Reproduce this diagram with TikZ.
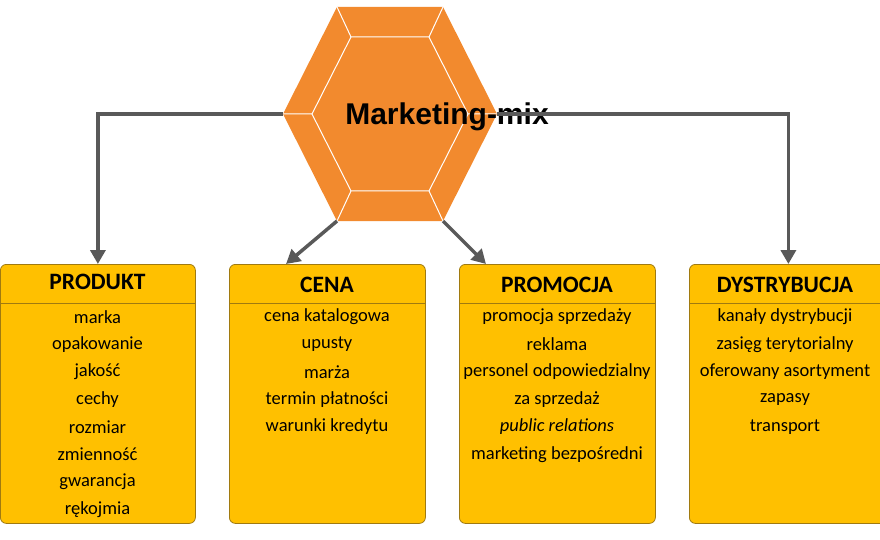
\documentclass[tikz,border=0pt]{standalone}
\usepackage{fontspec}
\setmainfont{Carlito}
\usetikzlibrary{arrows.meta}
\begin{document}
\begin{tikzpicture}[x=1pt,y=-1pt,
  box/.style={draw=boxdraw,fill=boxfill,rounded corners=6pt,line width=0.8pt,minimum height=259pt,inner sep=0pt,anchor=north west},
  conn/.style={draw=conncol,line width=3.5pt,-{Triangle[length=14pt,width=15pt]}},
  item/.style={font=\fontsize{18.5}{18.5}\selectfont,anchor=center,inner sep=0pt},
  head/.style={font=\bfseries\fontsize{23.5}{23.5}\selectfont,anchor=center,inner sep=0pt}]
\definecolor{boxfill}{HTML}{FFC000}
\definecolor{boxdraw}{HTML}{A07A10}
\definecolor{conncol}{HTML}{595959}
\definecolor{hexfill}{HTML}{F28A2E}
\useasboundingbox (0,0) rectangle (880,540);
% hexagon
\fill[hexfill] (283,114)--(337,7)--(443,7)--(497,114)--(443,221)--(337,221)--cycle;
\draw[white,line width=1pt] (312,114)--(351,37)--(429,37)--(468,114)--(429,191)--(351,191)--cycle;
\draw[white,line width=1pt] (283,114)--(312,114) (337,7)--(351,37) (443,7)--(429,37) (497,114)--(468,114) (443,221)--(429,191) (337,221)--(351,191);
\node[font=\fontspec{Liberation Sans}\bfseries\fontsize{30}{30}\selectfont,inner sep=0pt] (title) at (447,117) {Marketing-mix};
\coordinate (hl) at (283,114);
\coordinate (hr) at (497,114);
\coordinate (hbl) at (337,221);
\coordinate (hbr) at (443,221);
% boxes
\node[box,minimum width=195pt] (bp) at (0,264) {};
\node[box,minimum width=196pt] (bc) at (229,264) {};
\node[box,minimum width=196pt] (bm) at (459,264) {};
\node[box,minimum width=198pt] (bd) at (689,264) {};
\foreach \x/\w in {0/195, 229/196, 459/196, 689/198}
  \draw[boxdraw,line width=0.8pt] (\x,303) -- ++(\w,0);
\coordinate (ct) at (286,264);
\coordinate (mt) at (486,264);
\node[head] (hp) at (97.5,282) {PRODUKT};
\node[head] (hc) at (327,285) {CENA};
\node[head] (hm) at (557,285) {PROMOCJA};
\node[head] (hd) at (785,285) {DYSTRYBUCJA};
\foreach \t [count=\i] in {marka,opakowanie,jakość,cechy,rozmiar,zmienność,gwarancja,rękojmia}
  \node[item] (p\i) at (97.5,{317+27.5*(\i-1)}) {\t};
\foreach \t [count=\i] in {cena katalogowa,upusty,marża,termin płatności,warunki kredytu}
  \node[item] (c\i) at (327,{317+27.5*(\i-1)}) {\t};
\foreach \t [count=\i] in {promocja sprzedaży,reklama,personel odpowiedzialny,za sprzedaż,\textit{public relations},marketing bezpośredni}
  \node[item] (m\i) at (557,{317+27.5*(\i-1)}) {\t};
\foreach \t [count=\i] in {kanały dystrybucji,zasięg terytorialny,oferowany asortyment,zapasy,transport}
  \node[item] (d\i) at (785,{317+27.5*(\i-1)}) {\t};
% connectors
\draw[conn] (hl) -| (bp.north);
\draw[conn] (hr) -| (bd.north);
\draw[conn] (hbl) -- (ct);
\draw[conn] (hbr) -- (mt);
\end{tikzpicture}
\end{document}
